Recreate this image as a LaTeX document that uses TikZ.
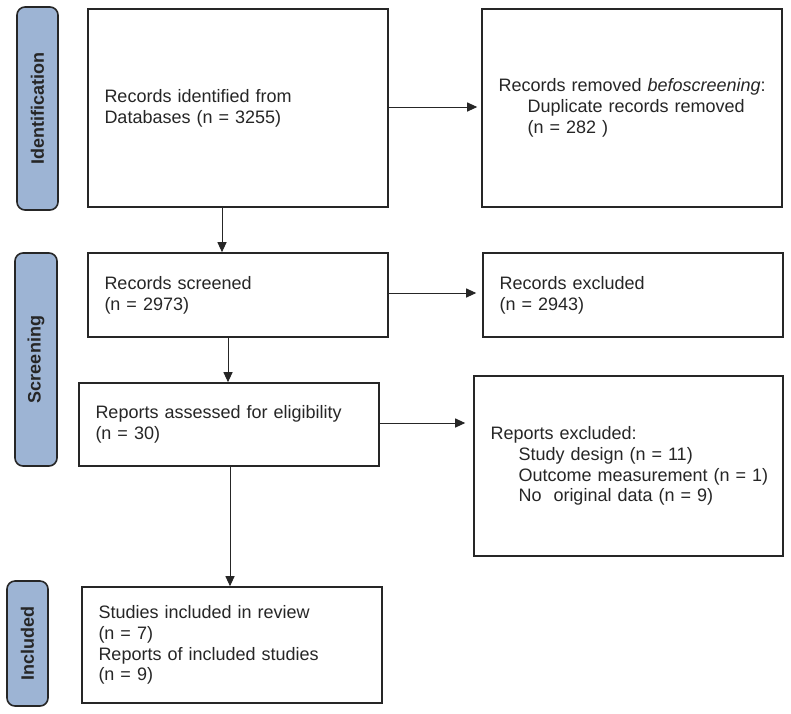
\documentclass[tikz,border=0pt]{standalone}
\usepackage{fontspec}
\setmainfont{Liberation Sans}
\usetikzlibrary{arrows.meta}
\definecolor{labelblue}{HTML}{9DB4D4}
\definecolor{ink}{HTML}{262626}
\tikzset{
  box/.style={draw=ink, line width=1.6pt, rectangle, inner xsep=16.5pt, inner ysep=0pt,
    align=left, anchor=center, text=ink, font=\fontsize{18}{20.7}\selectfont},
  phase/.style={draw=ink, line width=1.6pt, fill=labelblue, rounded corners=8pt,
    rotate=90, inner sep=0pt, text=ink, font=\fontsize{18}{21}\selectfont\bfseries},
  arr/.style={draw=ink, line width=1pt, -{Triangle[length=10pt,width=9pt]}}
}
\begin{document}
\begin{tikzpicture}[x=1pt,y=-1pt]
\useasboundingbox (0,0) rectangle (791,713);
\fill[white] (0,0) rectangle (791,713);

% phase labels
\node[phase, minimum width=203pt, minimum height=41pt] (lid) at (37.5,108.5) {Identification};
\node[phase, minimum width=213pt, minimum height=42pt] (lsc) at (36,359.5) {Screening};
\node[phase, minimum width=125pt, minimum height=41pt] (lin) at (27.5,643.5) {Included};

% boxes
\node[box, minimum width=300pt, minimum height=198pt, text width=267pt] (b1) at (238,108)
  {Records identified from\\Databases (n = 3255)};
\node[box, minimum width=300pt, minimum height=198pt, text width=267pt] (b2) at (632,108)
  {\mbox{Records removed \textit{befoscreening}:}\\\mbox{\hspace*{29pt}Duplicate records removed}\\\mbox{\hspace*{29pt}(n = 282 )}};
\node[box, minimum width=300pt, minimum height=84pt, text width=267pt] (b3) at (238,295)
  {Records screened\\(n = 2973)};
\node[box, minimum width=300pt, minimum height=84pt, text width=267pt] (b4) at (633,295)
  {Records excluded\\(n = 2943)};
\node[box, minimum width=300pt, minimum height=83pt, text width=267pt] (b5) at (229,424.5)
  {Reports assessed for eligibility\\(n = 30)};
\node[box, minimum width=309pt, minimum height=180pt, text width=276pt] (b6) at (628.5,466)
  {Reports excluded:\\\mbox{\hspace*{28pt}Study design (n = 11)}\\\mbox{\hspace*{28pt}Outcome measurement (n = 1)}\\\mbox{\hspace*{28pt}No\ \ original data (n = 9)}};
\node[box, minimum width=300pt, minimum height=116pt, text width=267pt] (b7) at (232,645)
  {Studies included in review\\(n = 7)\\Reports of included studies\\(n = 9)};

% connector x positions
\coordinate (x13) at (222,0);
\coordinate (x35) at (228,0);
\coordinate (x57) at (230,0);
\coordinate (y12) at (0,107);
\coordinate (y34) at (0,293);
\coordinate (y56) at (0,423);

% connectors
\draw[arr] (b1.south -| x13) -- (b3.north -| x13);
\draw[arr] (b3.south -| x35) -- (b5.north -| x35);
\draw[arr] (b5.south -| x57) -- (b7.north -| x57);
\draw[arr, shorten >=4pt] (b1.east |- y12) -- (b2.west |- y12);
\draw[arr, shorten >=6pt] (b3.east |- y34) -- (b4.west |- y34);
\draw[arr, shorten >=8pt] (b5.east |- y56) -- (b6.west |- y56);
\end{tikzpicture}
\end{document}
